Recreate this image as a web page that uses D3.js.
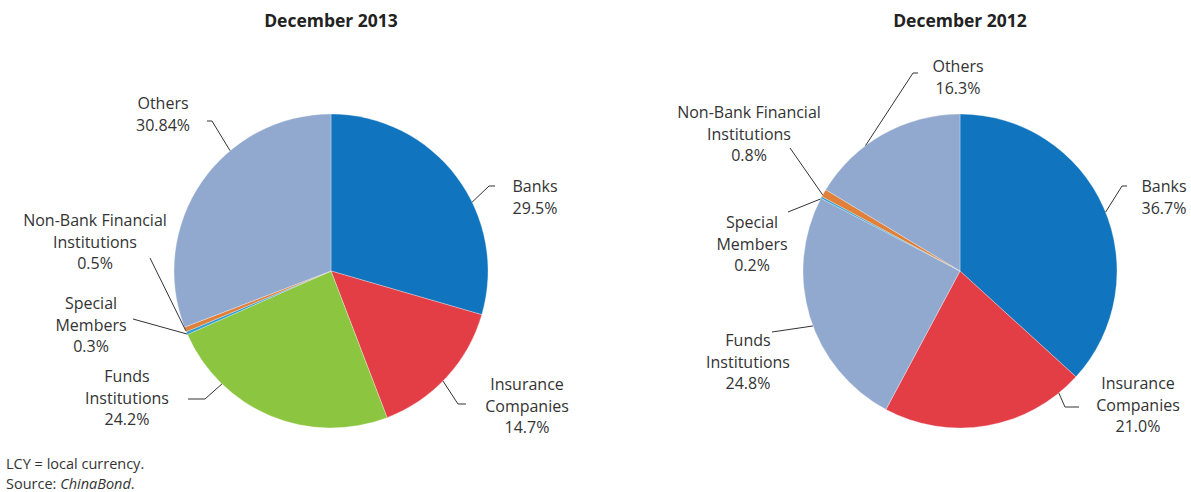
<!DOCTYPE html>
<html><head><meta charset="utf-8">
<script src="https://cdn.jsdelivr.net/npm/d3@7"></script>
<style>body{margin:0;background:#fff}svg{display:block}text{font-family:"Open Sans","Noto Sans",sans-serif;fill:#333}</style>
</head><body><svg id="c" width="1191" height="492"></svg>
<script>
const categories = ["Banks","Insurance Companies","Funds Institutions","Special Members","Non-Bank Financial Institutions","Others"];
const values2013 = [29.5, 14.7, 24.2, 0.3, 0.5, 30.84];
const values2012 = [36.7, 21.0, 24.8, 0.2, 0.8, 16.3];
const labels2013 = [["Banks","29.5%"],["Insurance","Companies","14.7%"],["Funds","Institutions","24.2%"],["Special","Members","0.3%"],["Non-Bank Financial","Institutions","0.5%"],["Others","30.84%"]];
const labels2012 = [["Banks","36.7%"],["Insurance","Companies","21.0%"],["Funds","Institutions","24.8%"],["Special","Members","0.2%"],["Non-Bank Financial","Institutions","0.8%"],["Others","16.3%"]];
const titles = ["December 2013","December 2012"];
const colors2013 = ["#1174be","#e33d45","#8cc540","#2e9fd0","#e0803a","#92a9cf"];
const colors2012 = ["#1174be","#e33d45","#92a9cf","#2e9fd0","#e0803a","#92a9cf"];

// layout: label center x, first line baseline y, leader attach angle (deg from top) and leader points
const layout2013 = [
  {lx:535, ly:192, a:64, pts:[[489,186],[495,186]]},
  {lx:527, ly:390, a:134.5, pts:[[458,404],[466,404]]},
  {lx:127, ly:382, a:224, pts:[[205,399],[188,399]]},
  {lx:91, ly:309, a:246.3, pts:[[133,319]]},
  {lx:95, ly:226, a:247.6, pts:[[150,258]]},
  {lx:163, ly:109, a:320, pts:[[212,121],[207,121]]}
];
const layout2012 = [
  {lx:1164, ly:192, a:68, pts:[[1122,186],[1127,186]]},
  {lx:1138, ly:389, a:141, pts:[[1065,407],[1079,407]]},
  {lx:748, ly:346, a:249.5, pts:[[772,332]]},
  {lx:752, ly:228, a:297.3, pts:[[788,212]]},
  {lx:749, ly:118, a:299, pts:[[790,148]]},
  {lx:958, ly:72, a:323, pts:[[913,73],[918,73]]}
];

const svg = d3.select("#c");
const R = 157;
const pie = d3.pie().sort(null).value(d => d);
const arc = d3.arc().innerRadius(0).outerRadius(R);

function drawPie(cx, cy, vals, cols, labs, lay, title) {
  const g = svg.append("g").attr("transform", `translate(${cx},${cy})`);
  g.selectAll("path").data(pie(vals)).join("path")
    .attr("d", arc).attr("fill", (d,i) => cols[i])
    .attr("stroke", "#fff").attr("stroke-width", 0.3);
  svg.append("text").attr("x", cx).attr("y", 27).attr("text-anchor","middle")
    .attr("font-size", 17.5).attr("font-weight","bold").style("fill","#222").text(title);
  lay.forEach((L, i) => {
    const ang = L.a * Math.PI / 180;
    const start = [cx + R * Math.sin(ang), cy - R * Math.cos(ang)];
    const pts = [start, ...L.pts];
    svg.append("path").attr("d", d3.line()(pts)).attr("fill","none")
      .attr("stroke","#333").attr("stroke-width",1);
    const t = svg.append("text").attr("text-anchor","middle").attr("font-size",16);
    labs[i].forEach((s, k) => t.append("tspan").attr("x", L.lx).attr("y", L.ly + k*21.5).text(s));
  });
}
drawPie(331, 271, values2013, colors2013, labels2013, layout2013, titles[0]);
drawPie(960, 271, values2012, colors2012, labels2012, layout2012, titles[1]);

svg.append("text").attr("x",6).attr("y",469).attr("font-size",14.5).text("LCY = local currency.");
const s = svg.append("text").attr("x",6).attr("y",489).attr("font-size",14.5);
s.append("tspan").text("Source: ");
s.append("tspan").attr("font-style","italic").text("ChinaBond");
s.append("tspan").text(".");
</script></body></html>
